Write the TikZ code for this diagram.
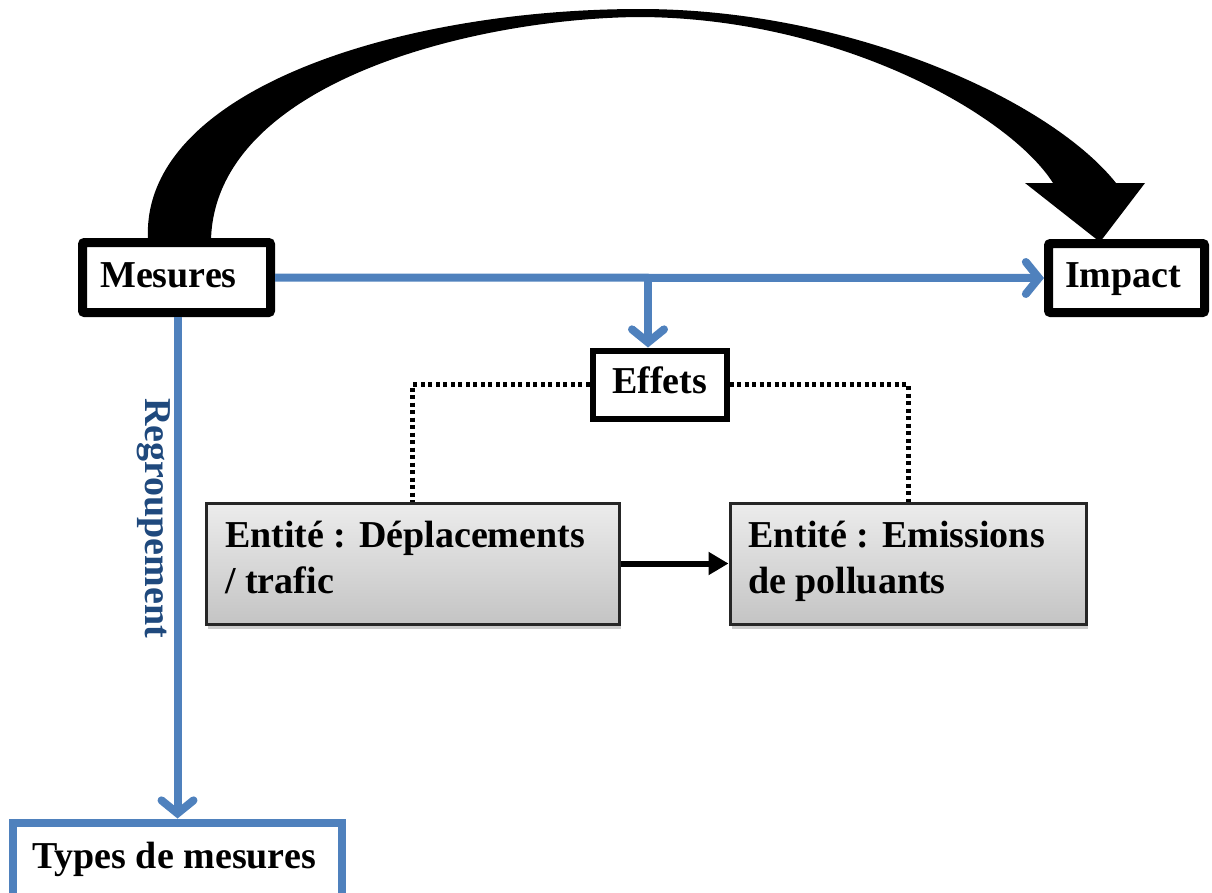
\documentclass[tikz,border=0pt]{standalone}
\usepackage{fontspec}
\setmainfont{Liberation Serif}
\usetikzlibrary{arrows.meta,shadows}
\definecolor{offblue}{RGB}{79,129,189}
\definecolor{darkblue}{RGB}{31,73,125}
\definecolor{gtop}{RGB}{236,236,236}
\definecolor{gbot}{RGB}{196,196,196}
\tikzset{
  txt/.style={anchor=base west,inner sep=0pt,font=\fontsize{38}{40}\selectfont\bfseries},
  blackbox/.style={draw=black,line width=9pt,fill=white,rounded corners=2pt,inner sep=0pt},
  effbox/.style={draw=black,line width=6pt,fill=white,inner sep=0pt},
  graybox/.style={draw=black!85,line width=3pt,top color=gtop,bottom color=gbot,inner sep=0pt,
    drop shadow={opacity=0.4,shadow xshift=2pt,shadow yshift=-5pt}},
  bluebox/.style={draw=offblue,line width=8pt,fill=white,inner sep=0pt},
  bluearrow/.style={draw=offblue,line width=8pt,-{Straight Barb[length=13pt,width=32pt,line cap=round]}},
  dotline/.style={draw=black,line width=5pt,dash pattern=on 4pt off 3.5pt},
  blackarrow/.style={draw=black,line width=6pt,-{Triangle[length=20pt,width=22pt]}}
}
\begin{document}
\begin{tikzpicture}[x=1pt,y=-1pt]
\useasboundingbox (0,0) rectangle (1212,892);
\clip (0,0) rectangle (1212,892);

% big curved arrow Mesures -> Impact
\fill[black] (148,240) .. controls (140,90) and (400,9) .. (640,9)
  .. controls (850,9) and (1050,100) .. (1116,183)
  -- (1145,183) -- (1100,242) -- (1025,183) -- (1053,183)
  .. controls (1010,115) and (840,18) .. (640,17)
  .. controls (480,18) and (215,80) .. (211,240) -- cycle;

% boxes
\node[blackbox,minimum width=188pt,minimum height=70pt] (Mesures) at (176.5,277.5) {};
\node[blackbox,minimum width=156pt,minimum height=69pt] (Impact) at (1126.5,278) {};
\node[effbox,minimum width=134pt,minimum height=68pt] (Effets) at (659.5,384.5) {};
\node[graybox,minimum width=413pt,minimum height=121pt] (Ent1) at (412.5,563.5) {};
\node[graybox,minimum width=356pt,minimum height=121pt] (Ent2) at (908,563.5) {};
\node[bluebox,minimum width=329pt,minimum height=120pt] (Types) at (177.5,882.5) {};

% texts
\node[txt] (tMes) at (100,287) {Mesures};
\node[txt] (tImp) at (1065,287) {Impact};
\node[txt] (tEff) at (612,393) {Effets};
\node[txt] (tE1a) at (225,547) {Entité : Déplacements};
\node[txt] (tE1b) at (225,593) {/ trafic};
\node[txt] (tE2a) at (748,547) {Entité : Emissions};
\node[txt] (tE2b) at (748,593) {de polluants};
\node[txt] (tTyp) at (32,868) {Types de mesures};
\node[txt,rotate=-90,text=darkblue] (tReg) at (145,398) {Regroupement};

% connectors
\coordinate (junc) at (648,277.5);
\draw[bluearrow] (Mesures.east) -- (Impact.west);
\draw[bluearrow] (junc) -- (junc |- Effets.north);
\draw[bluearrow] (Mesures.south -| Types.north) -- (Types.north);
\draw[dotline] (Effets.west) -| (Ent1.north);
\draw[dotline] (Effets.east) -| (Ent2.north);
\draw[blackarrow] (Ent1.east) -- (Ent2.west);
\end{tikzpicture}
\end{document}
